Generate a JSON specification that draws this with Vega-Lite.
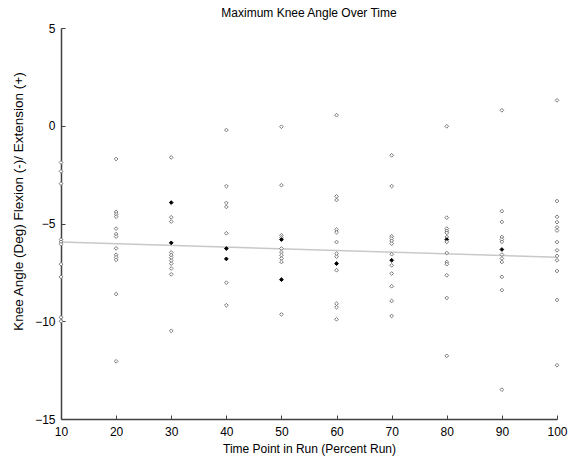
{
  "$schema": "https://vega.github.io/schema/vega-lite/v6.json",
  "width": 496,
  "height": 391,
  "autosize": {"type": "none"},
  "padding": {"left": 61, "top": 28, "right": 12, "bottom": 46},
  "background": "white",
  "title": {"text": "Maximum Knee Angle Over Time", "font": "Liberation Sans", "fontSize": 12, "fontWeight": "normal", "color": "#000000", "offset": 2},
  "config": {
    "view": {"stroke": null},
    "axis": {"labelFont": "Liberation Sans", "labelFontSize": 12, "labelColor": "#000000", "titleFont": "Liberation Sans", "titleFontSize": 12, "titleFontWeight": "normal", "titleColor": "#000000", "domainColor": "#404040", "tickColor": "#404040", "grid": false, "domainWidth": 1.5}
  },
  "datasets": {
    "obs": [
      {"t":10,"angle":-1.88,"n":1},{"t":10,"angle":-2.33,"n":1},{"t":10,"angle":-2.96,"n":1},{"t":10,"angle":-5.82,"n":1},{"t":10,"angle":-5.94,"n":1},{"t":10,"angle":-6.06,"n":1},{"t":10,"angle":-7.08,"n":1},{"t":10,"angle":-7.73,"n":1},{"t":10,"angle":-9.8,"n":1},{"t":10,"angle":-10.0,"n":1},
      {"t":20,"angle":-1.7,"n":1},{"t":20,"angle":-4.41,"n":1},{"t":20,"angle":-4.53,"n":1},{"t":20,"angle":-4.65,"n":1},{"t":20,"angle":-5.26,"n":1},{"t":20,"angle":-5.54,"n":1},{"t":20,"angle":-5.67,"n":1},{"t":20,"angle":-6.27,"n":1},{"t":20,"angle":-6.6,"n":1},{"t":20,"angle":-6.73,"n":1},{"t":20,"angle":-6.86,"n":1},{"t":20,"angle":-8.61,"n":1},{"t":20,"angle":-12.05,"n":1},
      {"t":30,"angle":-1.62,"n":1},{"t":30,"angle":-3.93,"n":2},{"t":30,"angle":-4.68,"n":1},{"t":30,"angle":-4.9,"n":1},{"t":30,"angle":-5.99,"n":2},{"t":30,"angle":-6.48,"n":1},{"t":30,"angle":-6.62,"n":1},{"t":30,"angle":-6.75,"n":1},{"t":30,"angle":-6.9,"n":1},{"t":30,"angle":-7.05,"n":1},{"t":30,"angle":-7.3,"n":1},{"t":30,"angle":-7.6,"n":1},{"t":30,"angle":-10.49,"n":1},
      {"t":40,"angle":-0.22,"n":1},{"t":40,"angle":-3.09,"n":1},{"t":40,"angle":-3.95,"n":1},{"t":40,"angle":-4.15,"n":1},{"t":40,"angle":-5.5,"n":1},{"t":40,"angle":-6.28,"n":2},{"t":40,"angle":-6.81,"n":2},{"t":40,"angle":-8.03,"n":1},{"t":40,"angle":-9.18,"n":1},
      {"t":50,"angle":-0.05,"n":1},{"t":50,"angle":-3.04,"n":1},{"t":50,"angle":-5.6,"n":1},{"t":50,"angle":-5.72,"n":1},{"t":50,"angle":-5.82,"n":2},{"t":50,"angle":-6.28,"n":1},{"t":50,"angle":-6.46,"n":1},{"t":50,"angle":-6.62,"n":1},{"t":50,"angle":-6.79,"n":1},{"t":50,"angle":-6.97,"n":1},{"t":50,"angle":-7.87,"n":2},{"t":50,"angle":-9.65,"n":1},
      {"t":60,"angle":0.54,"n":1},{"t":60,"angle":-3.61,"n":1},{"t":60,"angle":-3.8,"n":1},{"t":60,"angle":-5.31,"n":1},{"t":60,"angle":-5.45,"n":1},{"t":60,"angle":-5.95,"n":1},{"t":60,"angle":-6.54,"n":1},{"t":60,"angle":-6.7,"n":1},{"t":60,"angle":-7.05,"n":2},{"t":60,"angle":-7.39,"n":1},{"t":60,"angle":-9.1,"n":1},{"t":60,"angle":-9.28,"n":1},{"t":60,"angle":-9.9,"n":1},
      {"t":70,"angle":-1.51,"n":1},{"t":70,"angle":-3.09,"n":1},{"t":70,"angle":-5.65,"n":1},{"t":70,"angle":-5.77,"n":1},{"t":70,"angle":-5.89,"n":1},{"t":70,"angle":-6.03,"n":1},{"t":70,"angle":-6.57,"n":1},{"t":70,"angle":-6.88,"n":2},{"t":70,"angle":-7.14,"n":1},{"t":70,"angle":-7.56,"n":1},{"t":70,"angle":-8.21,"n":1},{"t":70,"angle":-8.96,"n":1},{"t":70,"angle":-9.73,"n":1},
      {"t":80,"angle":-0.03,"n":1},{"t":80,"angle":-4.7,"n":1},{"t":80,"angle":-5.26,"n":1},{"t":80,"angle":-5.38,"n":1},{"t":80,"angle":-5.48,"n":1},{"t":80,"angle":-5.69,"n":1},{"t":80,"angle":-5.82,"n":2},{"t":80,"angle":-5.94,"n":1},{"t":80,"angle":-6.51,"n":1},{"t":80,"angle":-6.97,"n":1},{"t":80,"angle":-7.08,"n":1},{"t":80,"angle":-7.65,"n":1},{"t":80,"angle":-8.81,"n":1},{"t":80,"angle":-11.77,"n":1},
      {"t":90,"angle":0.79,"n":1},{"t":90,"angle":-4.37,"n":1},{"t":90,"angle":-4.92,"n":1},{"t":90,"angle":-5.69,"n":1},{"t":90,"angle":-5.82,"n":1},{"t":90,"angle":-5.94,"n":1},{"t":90,"angle":-6.33,"n":2},{"t":90,"angle":-6.59,"n":1},{"t":90,"angle":-6.79,"n":1},{"t":90,"angle":-6.97,"n":1},{"t":90,"angle":-7.73,"n":1},{"t":90,"angle":-8.41,"n":1},{"t":90,"angle":-13.5,"n":1},
      {"t":100,"angle":1.3,"n":1},{"t":100,"angle":-3.85,"n":1},{"t":100,"angle":-4.66,"n":1},{"t":100,"angle":-4.93,"n":1},{"t":100,"angle":-5.2,"n":1},{"t":100,"angle":-5.36,"n":1},{"t":100,"angle":-5.95,"n":1},{"t":100,"angle":-6.37,"n":1},{"t":100,"angle":-6.66,"n":1},{"t":100,"angle":-6.88,"n":1},{"t":100,"angle":-7.43,"n":1},{"t":100,"angle":-8.91,"n":1},{"t":100,"angle":-12.25,"n":1}
    ],
    "fit": [
      {"t":10,"angle":-5.95},
      {"t":100,"angle":-6.72}
    ]
  },
  "layer": [
    {
      "data": {"name": "fit"},
      "mark": {"type": "line", "color": "#c8c8c8", "strokeWidth": 1.5},
      "encoding": {
        "x": {"field": "t", "type": "quantitative"},
        "y": {"field": "angle", "type": "quantitative"}
      }
    },
    {
      "data": {"name": "obs"},
      "mark": {"type": "point", "shape": "diamond", "size": 14, "filled": false, "strokeWidth": 1, "opacity": 1},
      "encoding": {
        "x": {"field": "t", "type": "quantitative", "scale": {"domain": [10, 100], "nice": false, "zero": false}, "axis": {"values": [10,20,30,40,50,60,70,80,90,100], "title": "Time Point in Run (Percent Run)", "tickSize": -4, "labelPadding": 11, "titlePadding": 6, "labelFlush": false}},
        "y": {"field": "angle", "type": "quantitative", "scale": {"domain": [-15, 5], "nice": false, "zero": false}, "axis": {"values": [-15,-10,-5,0,5], "title": "Knee Angle (Deg) Flexion (-)/ Extension (+)", "titleFontSize": 13.5, "titleY": 173, "tickSize": -4, "labelPadding": 10, "titlePadding": 9, "labelFlush": false}},
        "color": {"field": "n", "type": "nominal", "scale": {"domain": [1, 2], "range": ["#7a7a7a", "#000000"]}, "legend": null},
        "fill": {"field": "n", "type": "nominal", "scale": {"domain": [1, 2], "range": ["#ffffff", "#000000"]}, "legend": null}
      }
    }
  ]
}
